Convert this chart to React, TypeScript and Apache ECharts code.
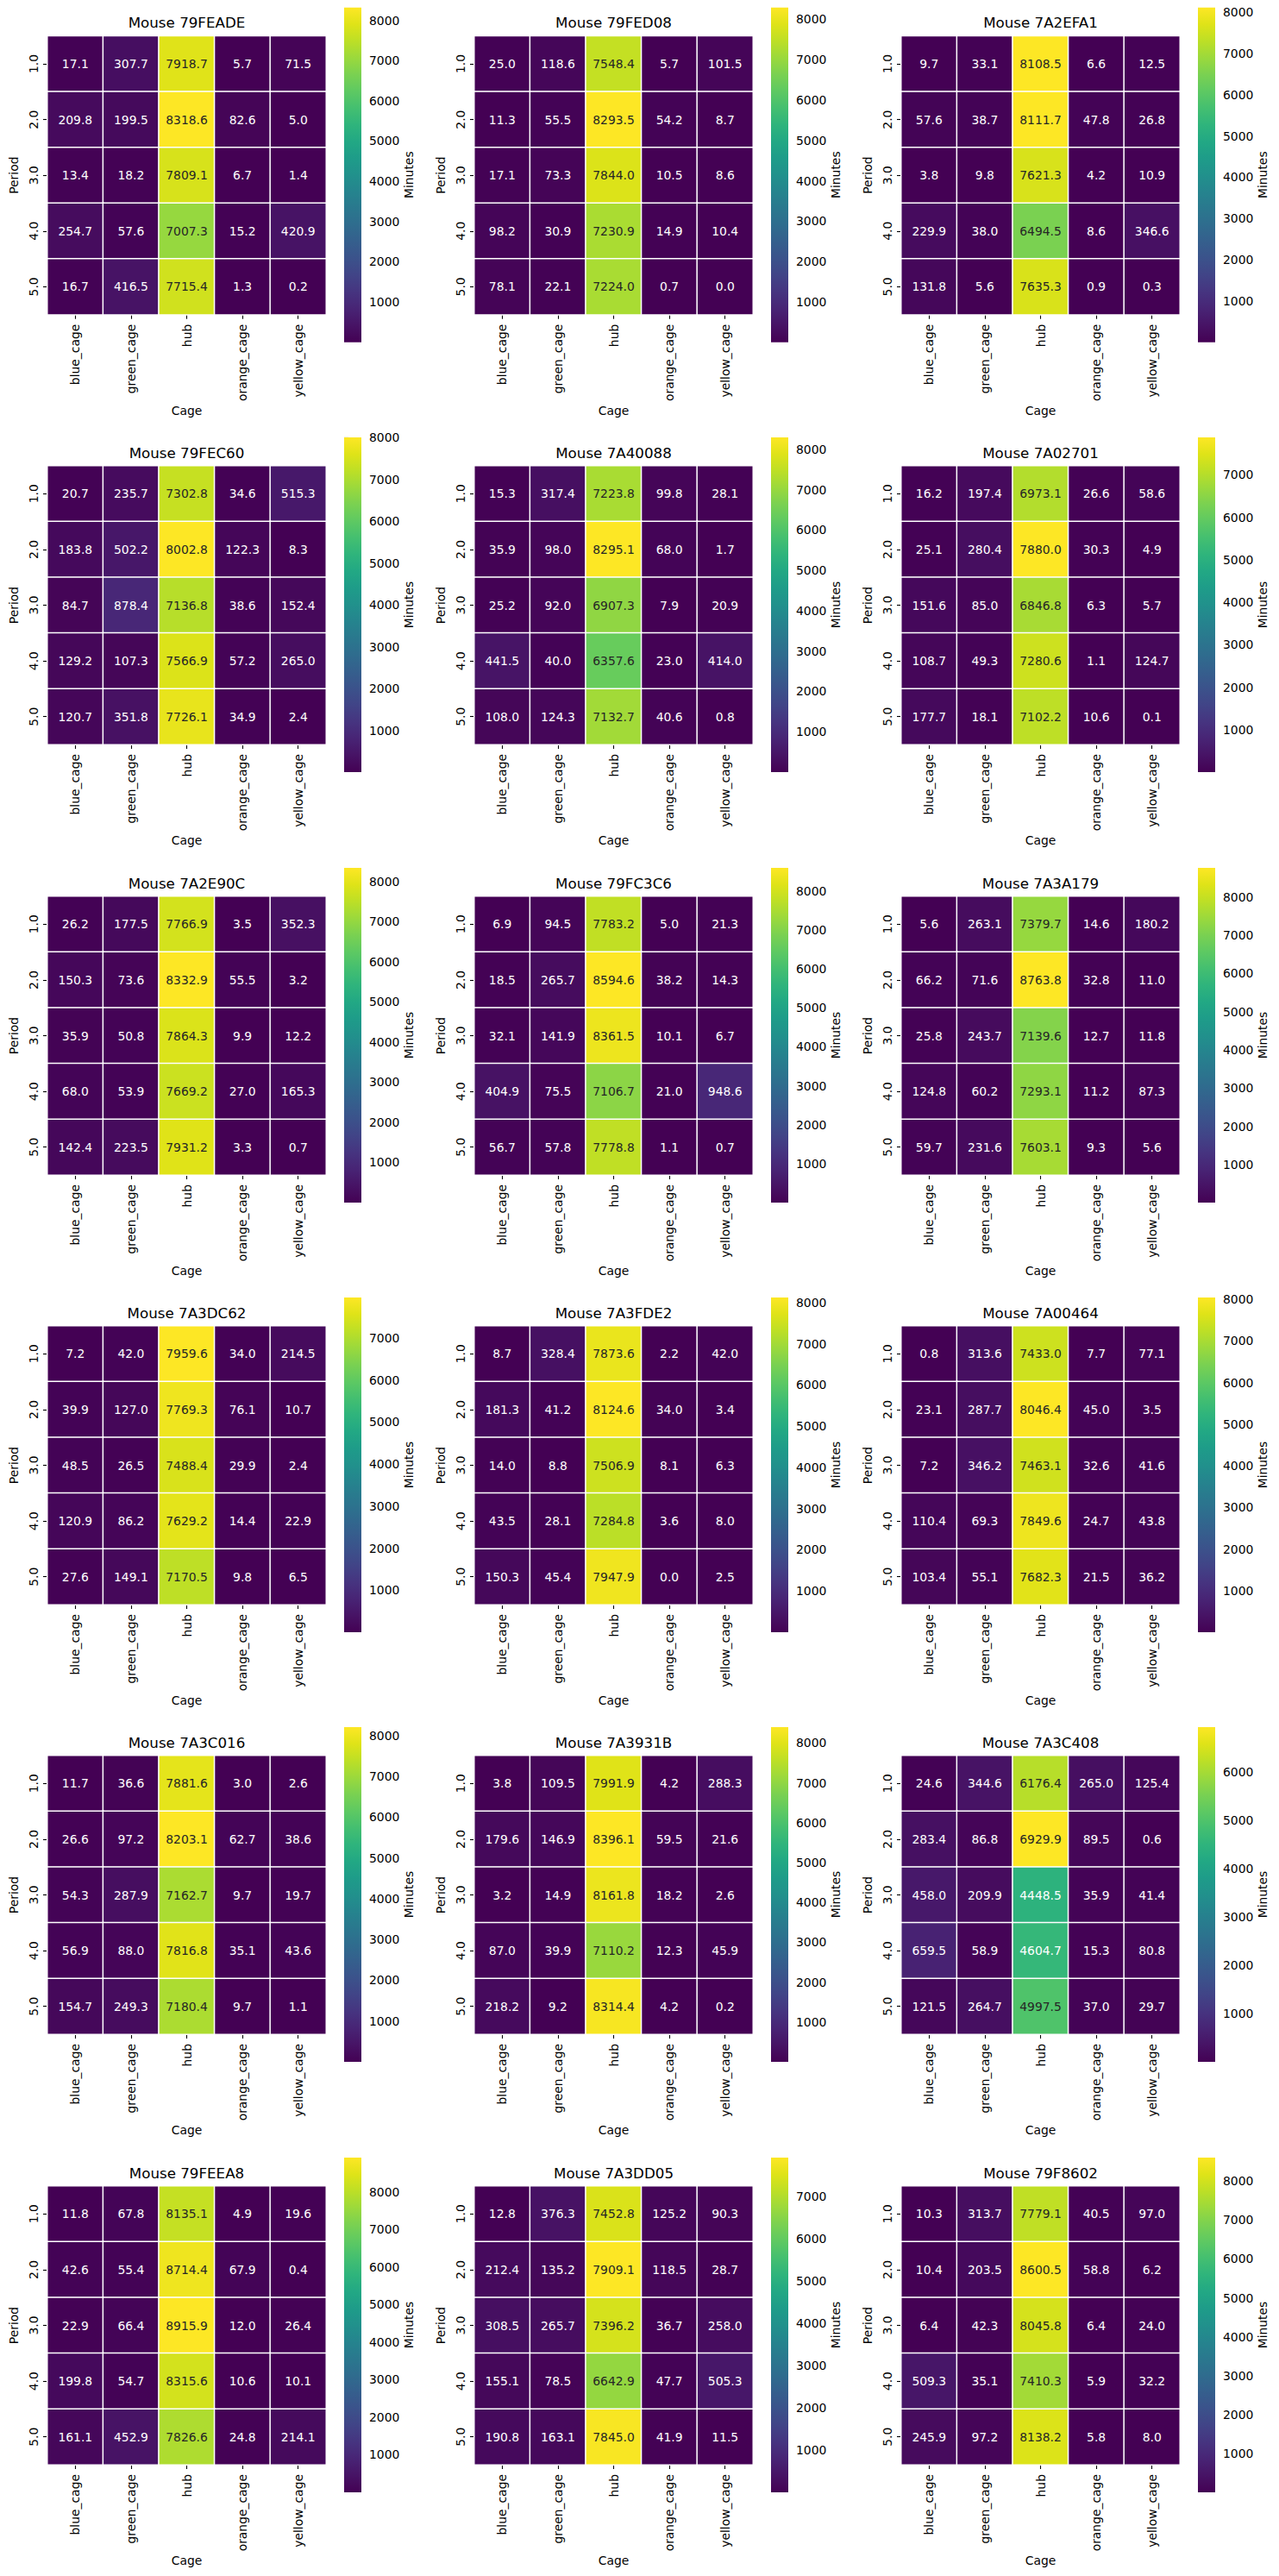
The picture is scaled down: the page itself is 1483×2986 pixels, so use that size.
import React, { useEffect, useRef } from 'react';
import * as echarts from 'echarts';

const MICE = [
  '79FEADE', '79FED08', '7A2EFA1',
  '79FEC60', '7A40088', '7A02701',
  '7A2E90C', '79FC3C6', '7A3A179',
  '7A3DC62', '7A3FDE2', '7A00464',
  '7A3C016', '7A3931B', '7A3C408',
  '79FEEA8', '7A3DD05', '79F8602',
];
const CAGES = ['blue_cage', 'green_cage', 'hub', 'orange_cage', 'yellow_cage'];
const PERIODS = ['1.0', '2.0', '3.0', '4.0', '5.0'];
const COLORBAR_TICKS = [1000, 2000, 3000, 4000, 5000, 6000, 7000, 8000];

// rows = periods, columns = cages
const M_79FEADE = [[17.1, 307.7, 7918.7, 5.7, 71.5], [209.8, 199.5, 8318.6, 82.6, 5.0], [13.4, 18.2, 7809.1, 6.7, 1.4], [254.7, 57.6, 7007.3, 15.2, 420.9], [16.7, 416.5, 7715.4, 1.3, 0.2]];
const M_79FED08 = [[25.0, 118.6, 7548.4, 5.7, 101.5], [11.3, 55.5, 8293.5, 54.2, 8.7], [17.1, 73.3, 7844.0, 10.5, 8.6], [98.2, 30.9, 7230.9, 14.9, 10.4], [78.1, 22.1, 7224.0, 0.7, 0.0]];
const M_7A2EFA1 = [[9.7, 33.1, 8108.5, 6.6, 12.5], [57.6, 38.7, 8111.7, 47.8, 26.8], [3.8, 9.8, 7621.3, 4.2, 10.9], [229.9, 38.0, 6494.5, 8.6, 346.6], [131.8, 5.6, 7635.3, 0.9, 0.3]];
const M_79FEC60 = [[20.7, 235.7, 7302.8, 34.6, 515.3], [183.8, 502.2, 8002.8, 122.3, 8.3], [84.7, 878.4, 7136.8, 38.6, 152.4], [129.2, 107.3, 7566.9, 57.2, 265.0], [120.7, 351.8, 7726.1, 34.9, 2.4]];
const M_7A40088 = [[15.3, 317.4, 7223.8, 99.8, 28.1], [35.9, 98.0, 8295.1, 68.0, 1.7], [25.2, 92.0, 6907.3, 7.9, 20.9], [441.5, 40.0, 6357.6, 23.0, 414.0], [108.0, 124.3, 7132.7, 40.6, 0.8]];
const M_7A02701 = [[16.2, 197.4, 6973.1, 26.6, 58.6], [25.1, 280.4, 7880.0, 30.3, 4.9], [151.6, 85.0, 6846.8, 6.3, 5.7], [108.7, 49.3, 7280.6, 1.1, 124.7], [177.7, 18.1, 7102.2, 10.6, 0.1]];
const M_7A2E90C = [[26.2, 177.5, 7766.9, 3.5, 352.3], [150.3, 73.6, 8332.9, 55.5, 3.2], [35.9, 50.8, 7864.3, 9.9, 12.2], [68.0, 53.9, 7669.2, 27.0, 165.3], [142.4, 223.5, 7931.2, 3.3, 0.7]];
const M_79FC3C6 = [[6.9, 94.5, 7783.2, 5.0, 21.3], [18.5, 265.7, 8594.6, 38.2, 14.3], [32.1, 141.9, 8361.5, 10.1, 6.7], [404.9, 75.5, 7106.7, 21.0, 948.6], [56.7, 57.8, 7778.8, 1.1, 0.7]];
const M_7A3A179 = [[5.6, 263.1, 7379.7, 14.6, 180.2], [66.2, 71.6, 8763.8, 32.8, 11.0], [25.8, 243.7, 7139.6, 12.7, 11.8], [124.8, 60.2, 7293.1, 11.2, 87.3], [59.7, 231.6, 7603.1, 9.3, 5.6]];
const M_7A3DC62 = [[7.2, 42.0, 7959.6, 34.0, 214.5], [39.9, 127.0, 7769.3, 76.1, 10.7], [48.5, 26.5, 7488.4, 29.9, 2.4], [120.9, 86.2, 7629.2, 14.4, 22.9], [27.6, 149.1, 7170.5, 9.8, 6.5]];
const M_7A3FDE2 = [[8.7, 328.4, 7873.6, 2.2, 42.0], [181.3, 41.2, 8124.6, 34.0, 3.4], [14.0, 8.8, 7506.9, 8.1, 6.3], [43.5, 28.1, 7284.8, 3.6, 8.0], [150.3, 45.4, 7947.9, 0.0, 2.5]];
const M_7A00464 = [[0.8, 313.6, 7433.0, 7.7, 77.1], [23.1, 287.7, 8046.4, 45.0, 3.5], [7.2, 346.2, 7463.1, 32.6, 41.6], [110.4, 69.3, 7849.6, 24.7, 43.8], [103.4, 55.1, 7682.3, 21.5, 36.2]];
const M_7A3C016 = [[11.7, 36.6, 7881.6, 3.0, 2.6], [26.6, 97.2, 8203.1, 62.7, 38.6], [54.3, 287.9, 7162.7, 9.7, 19.7], [56.9, 88.0, 7816.8, 35.1, 43.6], [154.7, 249.3, 7180.4, 9.7, 1.1]];
const M_7A3931B = [[3.8, 109.5, 7991.9, 4.2, 288.3], [179.6, 146.9, 8396.1, 59.5, 21.6], [3.2, 14.9, 8161.8, 18.2, 2.6], [87.0, 39.9, 7110.2, 12.3, 45.9], [218.2, 9.2, 8314.4, 4.2, 0.2]];
const M_7A3C408 = [[24.6, 344.6, 6176.4, 265.0, 125.4], [283.4, 86.8, 6929.9, 89.5, 0.6], [458.0, 209.9, 4448.5, 35.9, 41.4], [659.5, 58.9, 4604.7, 15.3, 80.8], [121.5, 264.7, 4997.5, 37.0, 29.7]];
const M_79FEEA8 = [[11.8, 67.8, 8135.1, 4.9, 19.6], [42.6, 55.4, 8714.4, 67.9, 0.4], [22.9, 66.4, 8915.9, 12.0, 26.4], [199.8, 54.7, 8315.6, 10.6, 10.1], [161.1, 452.9, 7826.6, 24.8, 214.1]];
const M_7A3DD05 = [[12.8, 376.3, 7452.8, 125.2, 90.3], [212.4, 135.2, 7909.1, 118.5, 28.7], [308.5, 265.7, 7396.2, 36.7, 258.0], [155.1, 78.5, 6642.9, 47.7, 505.3], [190.8, 163.1, 7845.0, 41.9, 11.5]];
const M_79F8602 = [[10.3, 313.7, 7779.1, 40.5, 97.0], [10.4, 203.5, 8600.5, 58.8, 6.2], [6.4, 42.3, 8045.8, 6.4, 24.0], [509.3, 35.1, 7410.3, 5.9, 32.2], [245.9, 97.2, 8138.2, 5.8, 8.0]];

const MATRICES = [
  M_79FEADE, M_79FED08, M_7A2EFA1,
  M_79FEC60, M_7A40088, M_7A02701,
  M_7A2E90C, M_79FC3C6, M_7A3A179,
  M_7A3DC62, M_7A3FDE2, M_7A00464,
  M_7A3C016, M_7A3931B, M_7A3C408,
  M_79FEEA8, M_7A3DD05, M_79F8602,
];

const VIRIDIS = [
  '#440154', '#471365', '#482475', '#463480', '#414487', '#3b528b', '#355f8d',
  '#2f6c8e', '#2a788e', '#25848e', '#21918c', '#1e9c89', '#22a884', '#2fb47c',
  '#44bf70', '#5ec962', '#7ad151', '#9bd93c', '#bddf26', '#dfe318', '#fde725',
];

// layout
const W = 1483;
const H = 2986;
const COL_LEFT = [55, 550, 1045];
const ROW_TOP = [41.7, 540, 1039, 1537, 2035, 2534];
const HM = 323;
const CB_DX = 344;
const CB_W = 20;
const CB_DY = -33;
const CB_H = 388;
const FS = 13.9;
const TITLE_FS = 16.7;

function hexRgb(h: string) {
  return [1, 3, 5].map((i) => parseInt(h.slice(i, i + 2), 16) / 255);
}
function viridisAt(t: number) {
  const x = Math.max(0, Math.min(1, t)) * (VIRIDIS.length - 1);
  const i = Math.min(Math.floor(x), VIRIDIS.length - 2);
  const f = x - i;
  const a = hexRgb(VIRIDIS[i]);
  const b = hexRgb(VIRIDIS[i + 1]);
  return a.map((v, k) => v + (b[k] - v) * f);
}
function luminance(rgb: number[]) {
  const l = rgb.map((c) => (c <= 0.03928 ? c / 12.92 : Math.pow((c + 0.055) / 1.055, 2.4)));
  return 0.2126 * l[0] + 0.7152 * l[1] + 0.0722 * l[2];
}

function buildOption() {
  const title: any[] = [];
  const grid: any[] = [];
  const xAxis: any[] = [];
  const yAxis: any[] = [];
  const visualMap: any[] = [];
  const series: any[] = [];
  const stops = VIRIDIS.map((c, i) => ({ offset: i / (VIRIDIS.length - 1), color: c }));

  MATRICES.forEach((mat, k) => {
    const left = COL_LEFT[k % 3];
    const top = ROW_TOP[Math.floor(k / 3)];
    const flat = mat.flat();
    const vmin = Math.min(...flat);
    const vmax = Math.max(...flat);
    const ticks = COLORBAR_TICKS.filter((t) => t >= vmin && t <= vmax);

    title.push({
      text: 'Mouse ' + MICE[k],
      left: left + HM / 2,
      top: top - 24,
      textAlign: 'center',
      padding: 0,
      textStyle: { fontFamily: 'DejaVu Sans', fontSize: TITLE_FS, fontWeight: 'normal', color: '#000' },
    });

    grid.push({ left, top, width: HM, height: HM });
    grid.push({ left: left + CB_DX, top: top + CB_DY, width: CB_W, height: CB_H });

    const axisText = { fontFamily: 'DejaVu Sans', fontSize: FS, color: '#000' };
    xAxis.push({
      type: 'category',
      gridIndex: 2 * k,
      data: CAGES,
      axisLine: { show: false },
      axisTick: { show: true, alignWithLabel: true, length: 5, lineStyle: { color: '#000', width: 1.1 } },
      axisLabel: { ...axisText, rotate: 90, margin: 11, interval: 0 },
      splitLine: { show: false },
      name: 'Cage',
      nameLocation: 'middle',
      nameGap: 104,
      nameTextStyle: axisText,
    });
    xAxis.push({ type: 'value', gridIndex: 2 * k + 1, min: 0, max: 1, show: false });

    yAxis.push({
      type: 'category',
      gridIndex: 2 * k,
      data: PERIODS,
      inverse: true,
      axisLine: { show: false },
      axisTick: { show: true, alignWithLabel: true, length: 5, lineStyle: { color: '#000', width: 1.1 } },
      axisLabel: { ...axisText, rotate: 90, margin: 9, interval: 0 },
      splitLine: { show: false },
      name: 'Period',
      nameLocation: 'middle',
      nameGap: 32,
      nameTextStyle: axisText,
    });
    yAxis.push({
      type: 'value',
      gridIndex: 2 * k + 1,
      position: 'right',
      min: vmin,
      max: vmax,
      axisLine: { show: false },
      splitLine: { show: false },
      axisTick: { show: true, length: 5, customValues: ticks, lineStyle: { color: '#000', width: 1.1 } },
      axisLabel: {
        ...axisText,
        margin: 9,
        customValues: ticks,
        showMinLabel: true,
        showMaxLabel: true,
        formatter: (v: number) => String(Math.round(v)),
      },
      name: 'Minutes',
      nameLocation: 'middle',
      nameGap: 48,
      nameTextStyle: axisText,
    });

    const data: any[] = [];
    mat.forEach((row, r) => {
      row.forEach((v, c) => {
        const lum = luminance(viridisAt((v - vmin) / (vmax - vmin)));
        data.push({ value: [c, r, v], label: { color: lum > 0.408 ? '#262626' : '#ffffff' } });
      });
    });

    visualMap.push({
      type: 'continuous',
      show: false,
      seriesIndex: 2 * k,
      dimension: 2,
      min: vmin,
      max: vmax,
      inRange: { color: VIRIDIS },
    });

    series.push({
      type: 'heatmap',
      xAxisIndex: 2 * k,
      yAxisIndex: 2 * k,
      data,
      label: {
        show: true,
        fontFamily: 'DejaVu Sans',
        fontSize: FS,
        formatter: (p: any) => p.value[2].toFixed(1),
      },
      itemStyle: { borderColor: '#ffffff', borderWidth: 1.5 },
      emphasis: { disabled: true },
      silent: true,
    });
    series.push({
      type: 'custom',
      xAxisIndex: 2 * k + 1,
      yAxisIndex: 2 * k + 1,
      data: [[0.5, vmin]],
      silent: true,
      renderItem: (params: any) => {
        const cs = params.coordSys;
        return {
          type: 'rect',
          shape: { x: cs.x, y: cs.y, width: cs.width, height: cs.height },
          style: { fill: new echarts.graphic.LinearGradient(0, 1, 0, 0, stops) },
        };
      },
    });
  });

  return {
    animation: false,
    backgroundColor: '#ffffff',
    textStyle: { fontFamily: 'DejaVu Sans' },
    title,
    grid,
    xAxis,
    yAxis,
    visualMap,
    series,
  };
}

export default function App() {
  const ref = useRef<HTMLDivElement>(null);
  useEffect(() => {
    if (!ref.current) return;
    const chart = echarts.init(ref.current, undefined, { renderer: 'svg', width: W, height: H });
    chart.setOption(buildOption() as any);
    return () => chart.dispose();
  }, []);
  return (
    <div
      ref={ref}
      style={{ position: 'absolute', left: 0, top: 0, width: W, height: H, background: '#fff' }}
    />
  );
}
